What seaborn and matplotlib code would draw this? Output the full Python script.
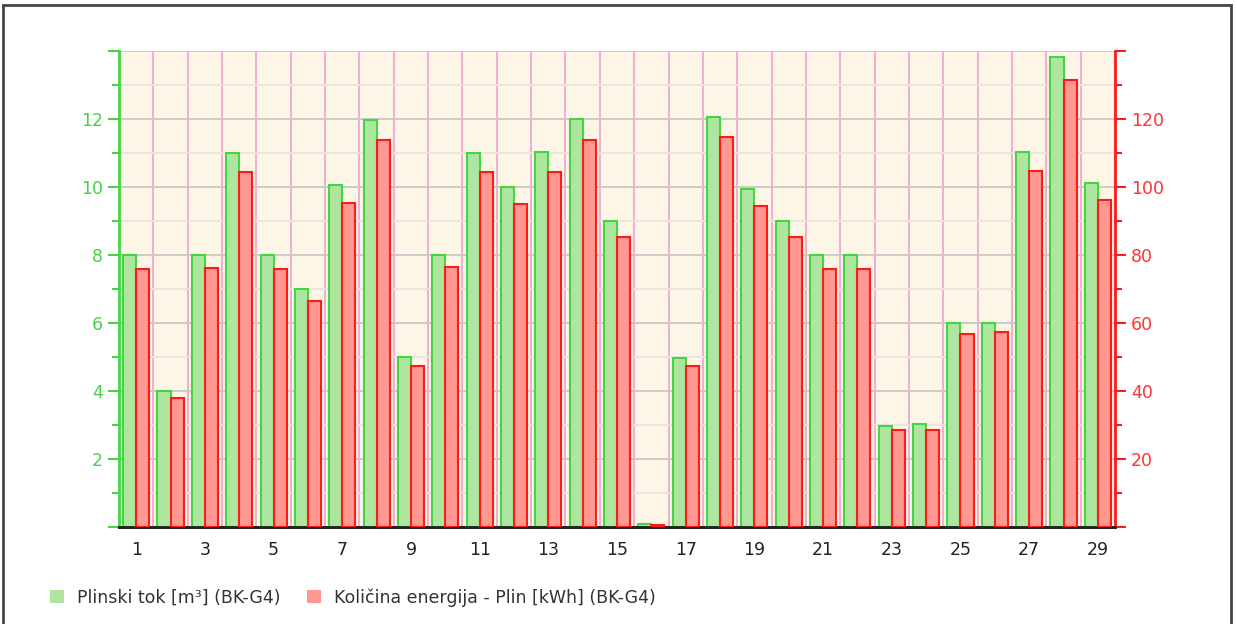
import numpy as np
import pandas as pd
import seaborn as sns
import matplotlib.pyplot as plt
from matplotlib.patches import Patch, Rectangle
from matplotlib.ticker import MultipleLocator, FixedLocator

# Data
days = list(range(1, 30))
flow_m3 = [8.0, 4.0, 8.0, 11.0, 8.0, 7.0, 10.05, 11.97, 5.0, 8.0,
           11.0, 10.0, 11.03, 12.0, 9.0, 0.08, 4.97, 12.05, 9.95, 9.0,
           8.0, 8.0, 2.97, 3.03, 6.0, 6.0, 11.03, 13.82, 10.12]
energy_kwh = [76.0, 38.0, 76.2, 104.4, 76.0, 66.5, 95.3, 113.8, 47.4, 76.5,
              104.4, 95.0, 104.4, 113.8, 85.3, 0.5, 47.4, 114.7, 94.4, 85.3,
              76.0, 76.0, 28.5, 28.5, 56.8, 57.4, 104.7, 131.5, 96.2]
series = ["Plinski tok [m³] (BK-G4)", "Količina energija - Plin [kWh] (BK-G4)"]

green_fill, green_edge = "#aee6a0", "#44d444"
red_fill, red_edge = "#ff9890", "#ff1a1a"

flow_df = pd.DataFrame({"day": days, "value": flow_m3, "series": series[0]})
energy_df = pd.DataFrame({"day": days, "value": energy_kwh, "series": series[1]})

sns.set_style("white")
plt.rcParams["font.family"] = ["DejaVu Sans"]

fig = plt.figure(figsize=(12.37, 6.24), dpi=100)
ax = fig.add_axes([0.0962, 0.1554, 0.8052, 0.7629])
ax2 = ax.twinx()

palette = {series[0]: green_fill, series[1]: red_fill}
sns.barplot(data=flow_df, x="day", y="value", hue="series", hue_order=series,
            palette=palette, width=0.76, dodge=True, ax=ax, edgecolor=green_edge,
            linewidth=1.5, saturation=1, legend=False, zorder=3)
sns.barplot(data=energy_df, x="day", y="value", hue="series", hue_order=series,
            palette=palette, width=0.76, dodge=True, ax=ax2, edgecolor=red_edge,
            linewidth=1.5, saturation=1, legend=False, zorder=3)

n = len(days)
for a in (ax, ax2):
    a.set_xlim(-0.5, n - 0.5)
    a.set_xlabel("")
    a.set_ylabel("")

ax.set_ylim(0, 14)
ax2.set_ylim(0, 140)
ax.set_facecolor("#fdf5e6")
ax2.patch.set_visible(False)

# x axis: labels on odd days, tick marks at category boundaries
ax.xaxis.set_major_locator(FixedLocator(list(range(0, n, 2))))
ax.set_xticklabels([str(d) for d in days[::2]])
ax.xaxis.set_minor_locator(FixedLocator([i + 0.5 for i in range(-1, n)]))
ax.tick_params(axis="x", which="major", length=0, labelsize=12.5,
               labelcolor="#222222", pad=10)
ax.tick_params(axis="x", which="minor", length=6, width=1.5,
               direction="in", color="#222222")
ax.grid(axis="x", which="minor", color="#f0a8d4", linewidth=1.3, zorder=1)

# left axis (green)
ax.set_yticks(np.arange(0, 15, 2))
ax.set_yticklabels([""] + [str(v) for v in range(2, 13, 2)] + [""])
ax.yaxis.set_minor_locator(MultipleLocator(1))
ax.tick_params(axis="y", which="major", length=8, width=1.5, color=green_edge,
               labelcolor="#44d444", labelsize=12.5, direction="out", left=True)
ax.tick_params(axis="y", which="minor", length=5, width=1.5, color=green_edge,
               direction="out", left=True)
ax.grid(axis="y", which="major", color="#c8c8c8", linewidth=1.3, zorder=1)
ax.grid(axis="y", which="minor", color="#e8e4e0", linewidth=1.3, zorder=1)
ax.set_axisbelow(True)

# right axis (red)
ax2.set_yticks(np.arange(0, 141, 20))
ax2.set_yticklabels([""] + [str(v) for v in range(20, 121, 20)] + [""])
ax2.yaxis.set_minor_locator(MultipleLocator(10))
ax2.tick_params(axis="y", which="major", length=8, width=1.5, color=red_edge,
                labelcolor="#ff3333", labelsize=12.5, direction="out", right=True)
ax2.tick_params(axis="y", which="minor", length=5, width=1.5, color=red_edge,
                direction="out", right=True)
ax2.grid(False)

for a in (ax, ax2):
    a.spines["top"].set_visible(False)
    a.spines["bottom"].set_color("#222222")
    a.spines["bottom"].set_linewidth(2)
ax.spines["left"].set_color(green_edge)
ax.spines["left"].set_linewidth(2)
ax.spines["right"].set_visible(False)
ax2.spines["left"].set_visible(False)
ax2.spines["right"].set_color(red_edge)
ax2.spines["right"].set_linewidth(2)

# legend at the bottom
handles = [Patch(facecolor=green_fill, edgecolor="none"),
           Patch(facecolor=red_fill, edgecolor="none")]
fig.legend(handles, series, loc="lower left", bbox_to_anchor=(0.0275, 0.003),
           ncol=2, frameon=False, fontsize=12.5, labelcolor="#333333",
           handlelength=0.8, handleheight=0.8, columnspacing=1.55,
           handletextpad=0.75)

# outer frame
fig.patches.append(Rectangle((3 / 1237, -0.05), 1228 / 1237, 1.05 - 5 / 624,
                             transform=fig.transFigure, fill=False,
                             edgecolor="#444444", linewidth=2))

fig.savefig("out.png", dpi=100)
